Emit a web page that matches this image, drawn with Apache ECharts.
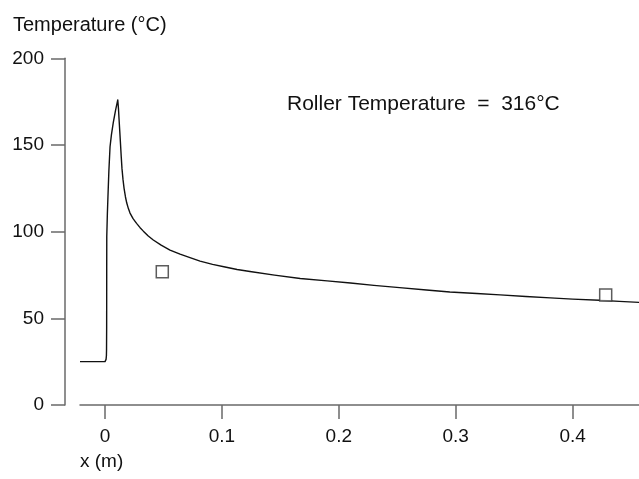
<!DOCTYPE html>
<html>
<head>
<meta charset="utf-8">
<script src="https://cdn.jsdelivr.net/npm/echarts@6/dist/echarts.min.js"></script>
<style>
  html, body { margin: 0; padding: 0; background: #fff; }
  #chart { width: 639px; height: 479px; }
</style>
</head>
<body>
<div id="chart"></div>
<script>
// Temperature profile along the strip (x in metres, T in °C)
const curveX = [-0.0214, 0.0, 0.0005, 0.0009, 0.0012, 0.0013, 0.0014, 0.00145, 0.0015, 0.0020, 0.0025,
                0.0033, 0.0043, 0.0055, 0.0071, 0.0090, 0.0109,
                0.0115, 0.0120, 0.0127, 0.0133, 0.0139, 0.0145, 0.0154, 0.0163, 0.0175, 0.0186,
                0.0200, 0.0214, 0.0240, 0.0270, 0.0300, 0.0328, 0.0370, 0.0413, 0.0480, 0.0556,
                0.0642, 0.0727, 0.0813, 0.092, 0.1027, 0.113, 0.124, 0.145, 0.167, 0.19, 0.21,
                0.23, 0.252, 0.275, 0.295, 0.318, 0.338, 0.36, 0.381, 0.40, 0.423, 0.44, 0.457];
const curveT = [25, 25, 25.3, 26.3, 28.5, 32, 45, 75, 97, 110, 120,
                135, 149, 156, 163, 170, 176,
                171, 165, 157, 150, 143, 136.5, 130, 125, 120, 116.5,
                113.3, 110.7, 107.5, 104.8, 102.3, 100.3, 97.5, 95.2, 92.2, 89.4,
                87.0, 85.0, 83.0, 81.1, 79.6, 78.2, 77.0, 74.9, 73.0, 71.6, 70.4,
                69.0, 67.7, 66.3, 65.2, 64.3, 63.5, 62.6, 61.8, 61.1, 60.4, 59.8, 59.2];

// Measured points
const measX = [0.049, 0.4283];
const measT = [76.9, 63.5];

const xTicks = [0, 0.1, 0.2, 0.3, 0.4];
const yTicks = [0, 50, 100, 150, 200];

const FONT = 'Liberation Sans';
const FS = 19;
const axisGray = '#6a6a6a';

const chart = echarts.init(document.getElementById('chart'), null, { renderer: 'canvas' });

chart.setOption({
  animation: false,
  backgroundColor: '#fff',
  grid: { left: 80, right: 0, top: 58.3, bottom: 74, containLabel: false },
  xAxis: {
    type: 'value',
    min: -0.0214,
    max: 0.4568,
    axisLine: { show: true, onZero: false, lineStyle: { color: axisGray, width: 1.5 } },
    axisTick: { show: true, inside: false, length: 14, customValues: xTicks,
                lineStyle: { color: axisGray, width: 1.5 } },
    axisLabel: { customValues: xTicks, margin: 22, fontFamily: FONT, fontSize: FS, color: '#111',
                 formatter: v => String(v) },
    splitLine: { show: false }
  },
  yAxis: {
    type: 'value',
    min: 0,
    max: 200,
    offset: 15,
    axisLine: { show: true, onZero: false, lineStyle: { color: axisGray, width: 1.5 } },
    axisTick: { show: true, inside: false, length: 14, customValues: yTicks,
                lineStyle: { color: axisGray, width: 1.5 } },
    axisLabel: { customValues: yTicks, margin: 21, fontFamily: FONT, fontSize: FS, color: '#111' },
    splitLine: { show: false }
  },
  graphic: [
    { type: 'text', left: 13, top: 15,
      style: { text: 'Temperature (°C)', font: '20px "' + FONT + '"', fill: '#111' } },
    { type: 'text', left: 80, top: 452,
      style: { text: 'x (m)', font: FS + 'px "' + FONT + '"', fill: '#111' } },
    { type: 'text', left: 287, top: 94,
      style: { text: 'Roller Temperature  =  316°C', font: '21px "' + FONT + '"', fill: '#111' } }
  ],
  series: [
    {
      type: 'line',
      data: curveX.map((x, i) => [x, curveT[i]]),
      showSymbol: false,
      smooth: false,
      lineStyle: { color: '#111', width: 1.4, join: 'round' },
      z: 2
    },
    {
      type: 'scatter',
      data: measX.map((x, i) => [x, measT[i]]),
      symbol: 'rect',
      symbolSize: 12,
      itemStyle: { color: '#fff', borderColor: '#333', borderWidth: 1.5 },
      z: 3
    }
  ]
});
</script>
</body>
</html>
